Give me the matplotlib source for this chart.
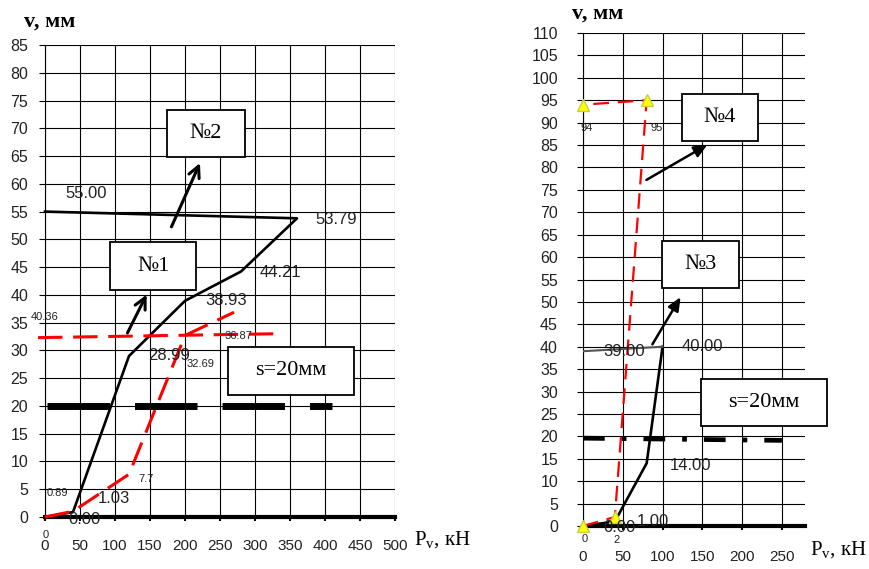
import matplotlib
matplotlib.use("Agg")
import matplotlib.pyplot as plt
from matplotlib.patches import Rectangle
import numpy as np

plt.rcParams['font.family'] = ['Liberation Sans', 'DejaVu Sans']
plt.rcParams['mathtext.fontset'] = 'custom'
plt.rcParams['mathtext.rm'] = 'Liberation Serif'
plt.rcParams['mathtext.it'] = 'Liberation Serif'

# ---- left chart (No1, No2) ----
p1_x = [0, 40, 120, 200, 280, 360, 0]
p1_y = [0, 0.89, 28.99, 38.93, 44.21, 53.79, 55.0]
p2_x = [0, 40, 120, 200, 270]
p2_y = [0, 1.03, 7.7, 32.69, 36.87]
p2h_x = [-10, 330]
p2h_y = [32.3, 33.0]
s1_x = [3, 410]
s1_y = [20, 20]

# ---- right chart (No3, No4) ----
p3_x = [0, 40, 80, 100, 0]
p3_y = [0, 1.0, 14.0, 40.0, 39.0]
p4_x = [0, 40, 80, 0]
p4_y = [0, 2, 95, 94]
s2_x = [0, 250]
s2_y = [19.6, 19.1]

W, H = 869, 569
fig = plt.figure(figsize=(W / 100, H / 100), dpi=100)


def px_axes(x0, x1, y0, y1):
    return fig.add_axes([x0 / W, 1 - y1 / H, (x1 - x0) / W, (y1 - y0) / H])


def style(ax, xmax, ymax, xticks, ytickpad, xtickpad):
    ax.set_xlim(0, xmax)
    ax.set_ylim(0, ymax)
    ax.set_xticks(xticks)
    ax.set_yticks(np.arange(0, ymax + 1, 5))
    ax.grid(True, color='black', lw=0.8)
    ax.set_axisbelow(True)
    for s in ['top', 'right']:
        ax.spines[s].set_visible(False)
    ax.spines['left'].set_linewidth(0.8)
    ax.spines['bottom'].set_linewidth(3)
    ax.tick_params(axis='y', length=4, width=0.8, pad=ytickpad, labelsize=11.5,
                   labelcolor='#222222')
    ax.tick_params(axis='x', length=3, width=1.5, pad=xtickpad, labelsize=11,
                   labelcolor='#222222')


def box(ax, x0, x1, y0, y1, txt):
    ax.add_patch(Rectangle((x0, y0), x1 - x0, y1 - y0, facecolor='white',
                           edgecolor='black', lw=1.3, zorder=6, clip_on=False))
    ax.text((x0 + x1) / 2, (y0 + y1) / 2, txt, family='Liberation Serif',
            fontsize=16, ha='center', va='center', zorder=7, clip_on=False)


# left axes
ax1 = px_axes(45, 395, 45, 517)
style(ax1, 500, 85, np.arange(0, 501, 50), 8, 13)
ax1.plot(p1_x, p1_y, color='black', lw=1.9, zorder=4, clip_on=False)
ax1.plot(p2_x, p2_y, color='red', lw=2.2, ls=(0, (8, 3.5)), zorder=4, clip_on=False)
ax1.plot(p2h_x, p2h_y, color='red', lw=2.2, ls=(0, (8, 3.5)), zorder=4, clip_on=False)
ax1.plot(s1_x, s1_y, color='black', lw=5, ls=(0, (9, 3.6)),
         solid_capstyle='butt', dash_capstyle='butt', zorder=4)

big = dict(fontsize=12, color='#222222', va='center', zorder=5)
small = dict(fontsize=8, color='#222222', va='center', zorder=5)
ax1.text(29, 58.3, '55.00', **big)
ax1.text(386, 53.6, '53.79', **big)
ax1.text(306, 44.1, '44.21', **big)
ax1.text(229, 38.9, '38.93', **big)
ax1.text(147, 29, '28.99', **big)
ax1.text(76, 3.4, '1.03', **big)
ax1.text(33, -0.4, '0.00', **big)
ax1.text(202, 27.5, '32.69', **small)
ax1.text(257, 32.6, '36.87', **small)
ax1.text(-21, 36, '40.36', clip_on=False, **small)
ax1.text(133, 6.8, '7.7', **small)
ax1.text(2, 4.4, '0.89', **small)
ax1.text(-3, -3.3, '0', clip_on=False, **small)

box(ax1, 174, 286, 64.8, 73.3, '№2')
box(ax1, 93, 216, 40.8, 49.5, '№1')
box(ax1, 261, 441, 22.0, 30.6, 's=20мм')
arr = dict(arrowstyle='->,head_length=0.8,head_width=0.4', lw=2.2, color='black')
ax1.annotate('', xy=(223, 64.2), xytext=(179, 51.8), arrowprops=arr, zorder=6)
ax1.annotate('', xy=(147, 40.5), xytext=(116, 32.7), arrowprops=arr, zorder=6)

# right axes
ax2 = px_axes(583, 805, 33, 526)
style(ax2, 279, 110, np.arange(0, 251, 50), 14, 14)
ax2.plot(p4_x, p4_y, color='red', lw=1.6, ls=(0, (7, 4)), zorder=4,
         marker='^', markersize=9, markerfacecolor='#ffff00',
         markeredgecolor='#c8d040', markeredgewidth=1, clip_on=False)
ax2.plot(p3_x[:4], p3_y[:4], color='black', lw=1.9, zorder=3)
ax2.plot(p3_x[3:], p3_y[3:], color='#555555', lw=1.5, zorder=3)
ax2.plot(s2_x, s2_y, color='black', lw=3.4, ls=(0, (4.6, 3.6, 1, 3.6)),
         dash_capstyle='butt', zorder=3)

ax2.text(-3, 88.9, '94', **small)
ax2.text(85, 88.9, '95', **small)
ax2.text(25, 38.9, '39.00', **big)
ax2.text(124, 40, '40.00', **big)
ax2.text(109, 13.6, '14.00', **big)
ax2.text(67, 0.9, '1.00', **big)
ax2.text(25, -0.3, '0.00', **big)
ax2.text(38, -3.2, '2', clip_on=False, **small)
ax2.text(-2, -3.0, '0', clip_on=False, **small)

box(ax2, 124.4, 219.8, 85.8, 96.4, '№4')
box(ax2, 99.2, 196, 53.1, 63.5, '№3')
box(ax2, 148, 306.5, 22.3, 32.8, 's=20мм')
arr2 = dict(arrowstyle='-|>,head_length=0.8,head_width=0.35', lw=1.8, color='black')
ax2.annotate('', xy=(159.5, 85.4), xytext=(76.6, 76.9), arrowprops=arr2, zorder=6)
ax2.annotate('', xy=(124.4, 51.6), xytext=(85.4, 40), arrowprops=arr2, zorder=6)

# axis titles
serif_b = dict(family='Liberation Serif', fontweight='bold', fontsize=16)
fig.text(50 / W, 1 - 22 / H, 'v, мм', ha='center', va='center', **serif_b)
fig.text(598 / W, 1 - 14 / H, 'v, мм', ha='center', va='center', **serif_b)
fig.text(414 / W, 1 - 545 / H, r'$\mathrm{P_v}$, кН', family='Liberation Serif',
         fontsize=15, ha='left', va='baseline')
fig.text(810 / W, 1 - 555 / H, r'$\mathrm{P_v}$, кН', family='Liberation Serif',
         fontsize=15, ha='left', va='baseline')

fig.savefig('out.png', dpi=100)
